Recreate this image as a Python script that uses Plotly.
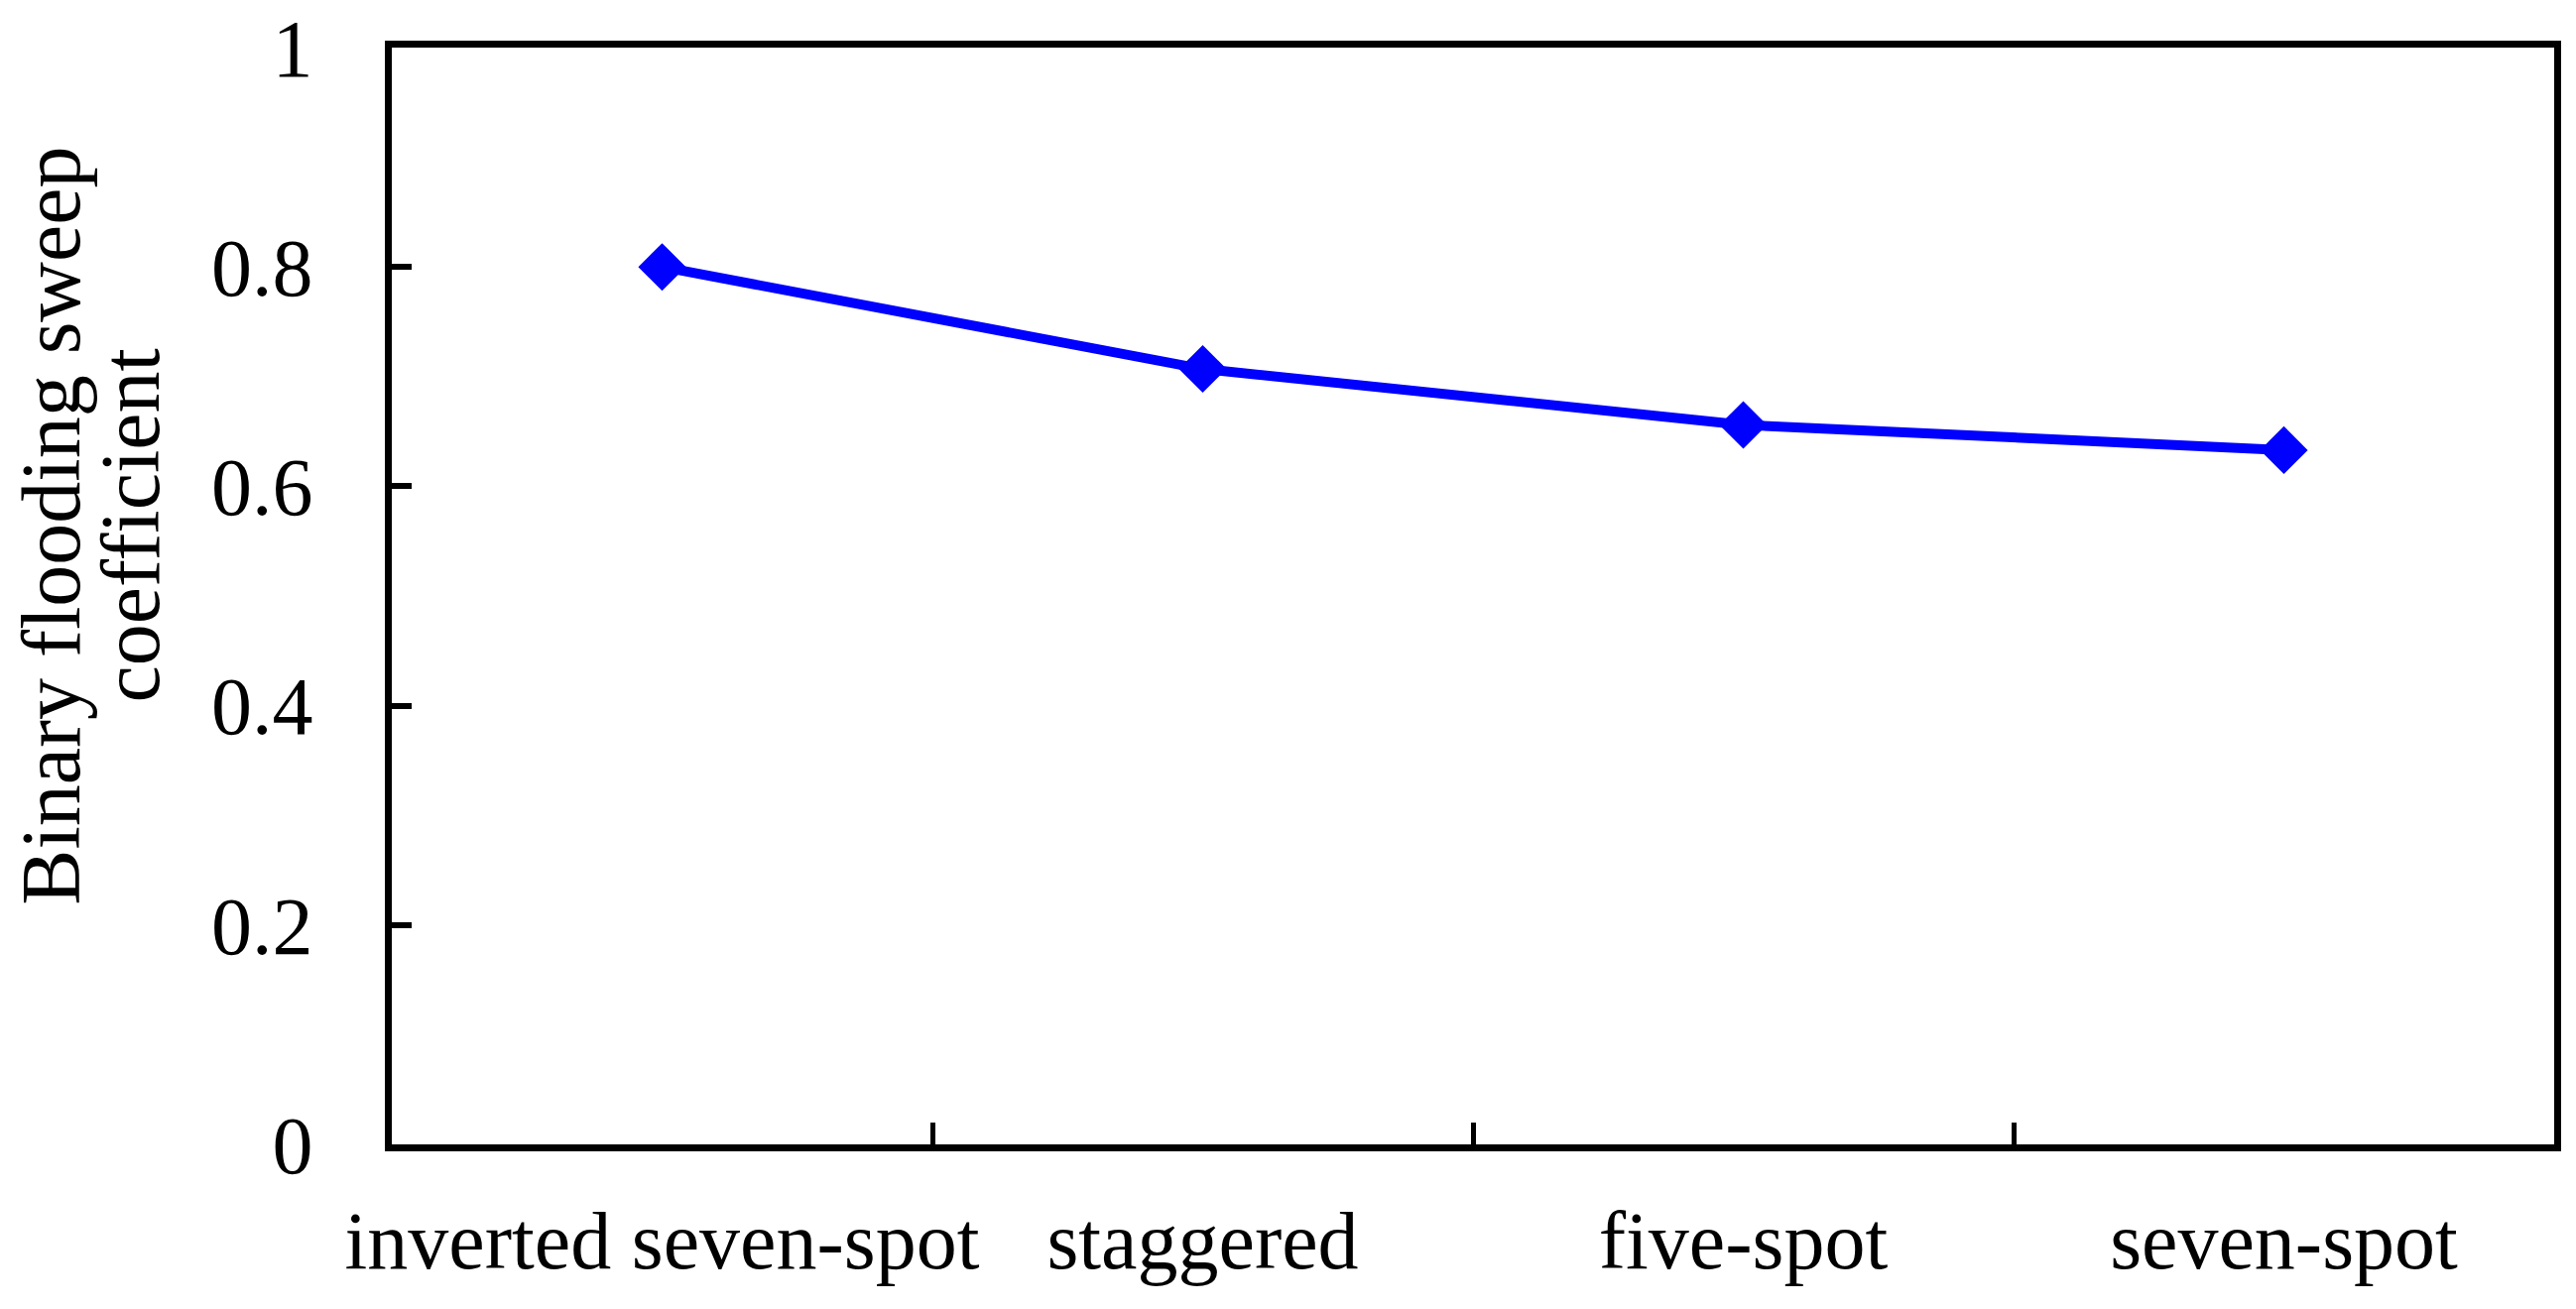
import plotly.graph_objects as go

categories = ["inverted seven-spot", "staggered", "five-spot", "seven-spot"]
sweep_coefficient = [0.80, 0.707, 0.656, 0.633]
y_tick_vals = [0, 0.2, 0.4, 0.6, 0.8, 1]
y_tick_text = ["0", "0.2", "0.4", "0.6", "0.8", "1"]
y_title_lines = ["Binary flooding sweep", "coefficient"]

# page body has an 8px default margin; compensate so the plot lands where the reference has it
OFF = 8
W, H = 2597 - OFF, 1320 - OFF
ML, MT = 394.5 - OFF, 47.5 - OFF
MR = W - (2575 - OFF)
MB = H - (1154.5 - OFF)
FAMILY = "Liberation Serif, Times New Roman, serif"
TICK_FONT = dict(family=FAMILY, size=82, color="black")
TITLE_FONT = dict(family=FAMILY, size=84, color="black")

fig = go.Figure()
fig.add_trace(go.Scatter(
    x=categories, y=sweep_coefficient, mode="lines+markers",
    line=dict(color="#0000FF", width=10),
    marker=dict(symbol="diamond", size=37, color="#0000FF"),
    showlegend=False, cliponaxis=False,
))

fig.update_layout(
    width=W, height=H,
    margin=dict(l=ML, r=MR, t=MT, b=MB, pad=0, autoexpand=False),
    paper_bgcolor="white", plot_bgcolor="white",
    font=TICK_FONT,
    xaxis=dict(
        type="category", range=[-0.5, len(categories) - 0.5],
        showgrid=False, zeroline=False, automargin=False,
        showline=True, linecolor="black", linewidth=7, mirror=True,
        ticks="inside", tickson="boundaries", ticklen=22, tickwidth=5, tickcolor="black",
        tickfont=TICK_FONT, tickangle=0, ticklabelstandoff=20,
        ticklabeloverflow="allow",
    ),
    yaxis=dict(
        range=[0, 1], showgrid=False, zeroline=False, automargin=False,
        showline=True, linecolor="black", linewidth=7, mirror=True,
        ticks="inside", ticklen=20, tickwidth=6, tickcolor="black",
        tickvals=y_tick_vals, ticktext=y_tick_text,
        tickfont=TICK_FONT, ticklabelstandoff=56,
        ticklabeloverflow="allow",
    ),
)

plot_h = H - MT - MB
y_center_px = 530 - OFF
y_paper = 1 - (y_center_px - MT) / plot_h
for line_text, x_px in zip(y_title_lines, [42, 123]):
    fig.add_annotation(
        text=line_text, textangle=-90, showarrow=False,
        xref="paper", yref="paper",
        x=(x_px - ML) / (W - ML - MR), y=y_paper,
        xanchor="center", yanchor="middle",
        font=TITLE_FONT,
    )

fig.write_html("out.html")
